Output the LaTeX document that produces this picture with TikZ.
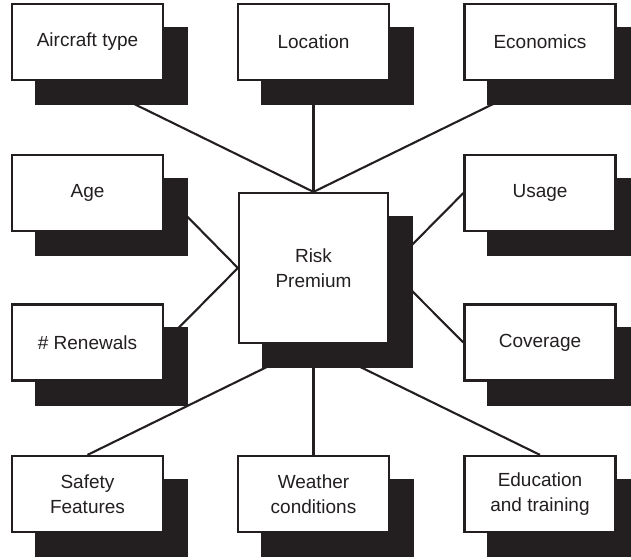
\documentclass[tikz,border=0pt]{standalone}
\usepackage{fontspec}
\setmainfont{Liberation Sans}
\definecolor{ink}{HTML}{231F20}
\pgfdeclarelayer{bg}
\pgfdeclarelayer{shade}
\pgfsetlayers{bg,shade,main}
\tikzset{
  box/.style={draw=ink, fill=white, line width=2.2pt, minimum width=151pt, minimum height=76pt,
    inner sep=0pt, align=center, text=ink, font=\fontsize{19}{25}\selectfont},
  conn/.style={draw=ink, line width=2.1pt}
}
\begin{document}
\begin{tikzpicture}[x=1pt,y=-1pt]
\useasboundingbox (0,0) rectangle (631,559);
\clip (0,0) rectangle (631,559);
\node[box] (air) at (87.5,42) {Aircraft type};
\node[box] (loc) at (313.5,42) {Location};
\node[box] (eco) at (540,42) {Economics};
\node[box] (age) at (87.5,193) {Age};
\node[box] (use) at (540,193) {Usage};
\node[box] (ren) at (87.5,342.5) {\# Renewals};
\node[box] (cov) at (540,342.5) {Coverage};
\node[box] (saf) at (87.5,494) {Safety\\Features};
\node[box] (wea) at (313.5,494) {Weather\\conditions};
\node[box] (edu) at (540,494) {Education\\and training};
\node[box, minimum width=149pt, minimum height=150pt] (risk) at (313.5,268) {Risk\\Premium};
\begin{pgfonlayer}{shade}
\foreach \n in {air,loc,eco,age,use,ren,cov,saf,wea,edu,risk}
  \fill[ink] ([shift={(24,24)}]\n.north west) rectangle ([shift={(24,24)}]\n.south east);
\end{pgfonlayer}
\begin{pgfonlayer}{bg}
\draw[conn] (air.south) -- (risk.north);
\draw[conn] (loc.south) -- (risk.north);
\draw[conn] (eco.south) -- (risk.north);
\draw[conn] (age.east) -- (risk.west);
\draw[conn] (ren.east) -- (risk.west);
\draw[conn] (use.west) -- (risk.east);
\draw[conn] (cov.west) -- (risk.east);
\draw[conn] (saf.north) -- (risk.south);
\draw[conn] (wea.north) -- (risk.south);
\draw[conn] (edu.north) -- (risk.south);
\end{pgfonlayer}
\end{tikzpicture}
\end{document}
